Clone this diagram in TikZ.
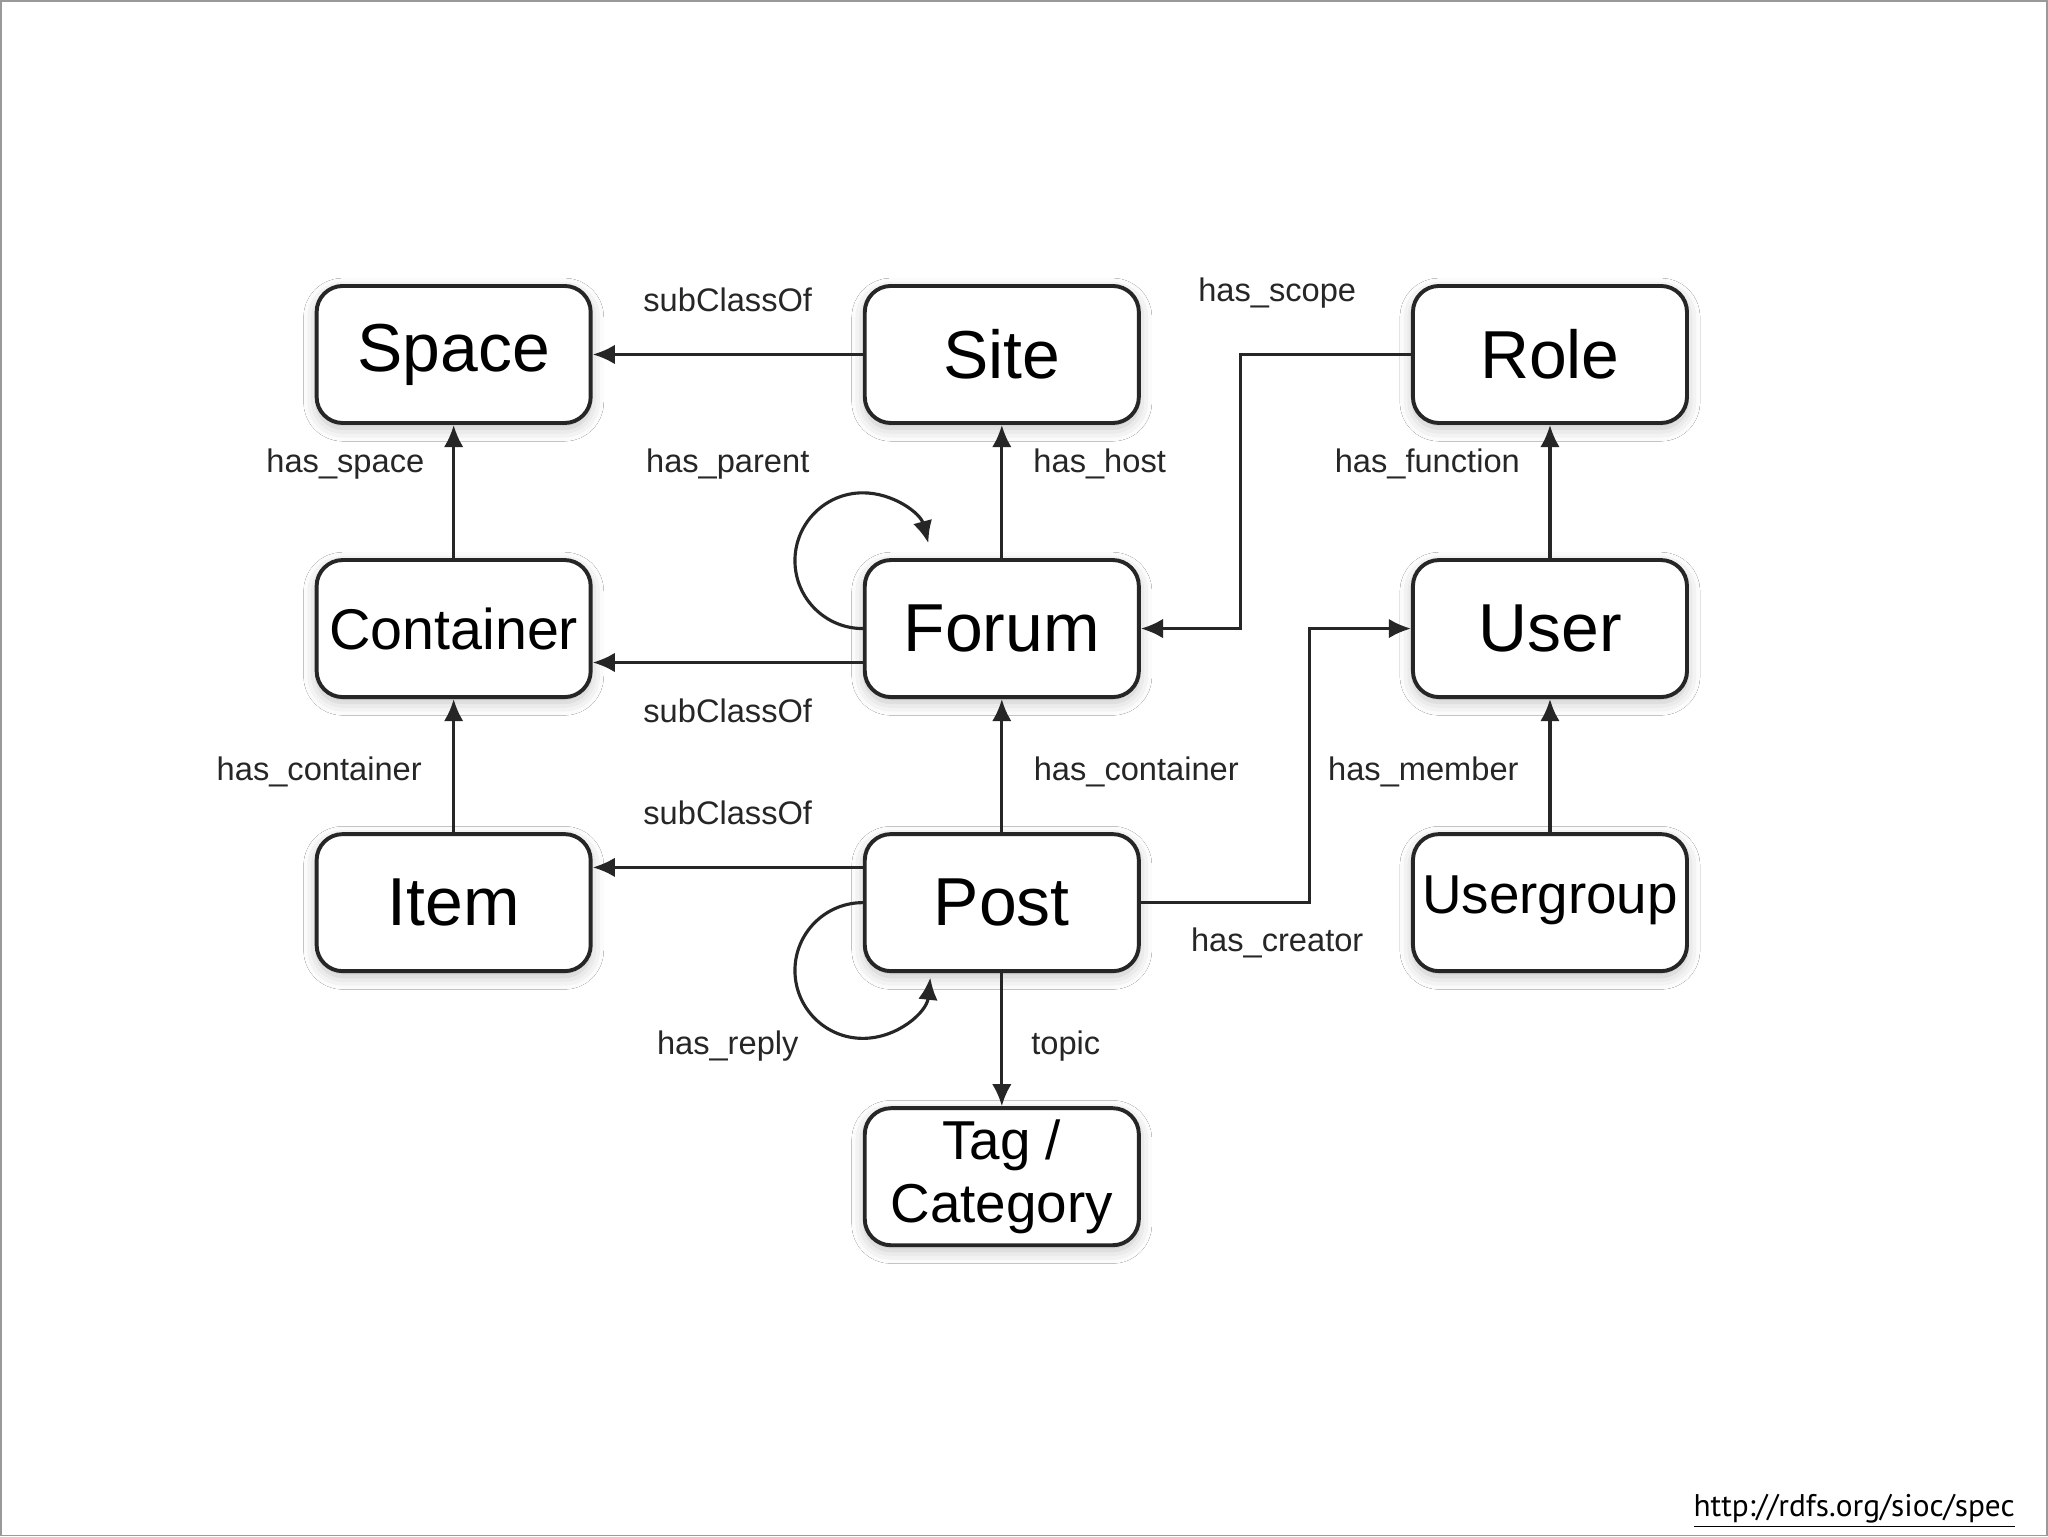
\documentclass[tikz,border=0pt]{standalone}
\usepackage{fontspec}
\setmainfont{Liberation Sans}
\newfontfamily\urlfont{PT Sans}
\usetikzlibrary{arrows.meta,shadows.blur}
\begin{document}
\begin{tikzpicture}[x=0.5pt,y=-0.5pt,
  box/.style={draw=black!85,line width=1.5pt,rounded corners=10pt,fill=white,
    minimum width=105pt,minimum height=52.5pt,inner sep=0pt,align=center,
    font=\fontsize{26}{26}\selectfont,
    blur shadow={shadow xshift=0pt,shadow yshift=-2pt,shadow blur radius=5pt,shadow opacity=25}},
  arr/.style={line width=1.2pt,draw=black!85,-{Latex[length=8.5pt,width=7.5pt]}},
  lbl/.style={font=\fontsize{12.5}{12.5}\selectfont,text=black!85}]
\draw[black!40,line width=0.6pt,fill=white] (0,0) rectangle (1568,1176);
\node[box] (space) at (347,271) {Space};
\node[box] (site) at (767,271) {Site};
\node[box] (role) at (1187,271) {Role};
\node[box,font=\fontsize{22}{22}\selectfont] (container) at (347,481) {Container};
\node[box] (forum) at (767,481) {Forum};
\node[box] (user) at (1187,481) {User};
\node[box] (item) at (347,691) {Item};
\node[box] (post) at (767,691) {Post};
\node[box,font=\fontsize{21}{21}\selectfont] (ugroup) at (1187,691) {Usergroup\rule[-6pt]{0pt}{1pt}};
\node[box,font=\fontsize{21}{24}\selectfont] (tag) at (767,901) {Tag /\\Category};

\draw[arr] (site) -- (space);
\draw[arr] (container) -- (space);
\draw[arr] (forum) -- (site);
\draw[arr] (forum.west) arc[start angle=270,end angle=15,radius=26pt];
\draw[arr] (role.west) -| (950,481) -- (forum.east);
\draw[arr] (user) -- (role);
\draw[arr] (forum.west |- 0,507) -- (container.east |- 0,507);
\draw[arr] (item) -- (container);
\draw[arr] (post) -- (forum);
\draw[arr] (post.west |- 0,664) -- (item.east |- 0,664);
\draw[arr] (post.east) -| (1003,481) -- (user.west);
\draw[arr] (ugroup) -- (user);
\draw[arr] (post.west |- 0,691) arc[start angle=90,end angle=354,radius=26pt];
\draw[arr] (post) -- (tag);

\node[lbl] (l1) at (557,229) {subClassOf};
\node[lbl] (l2) at (264,355) {has\_space};
\node[lbl] (l3) at (557,355) {has\_parent};
\node[lbl] (l4) at (842,355) {has\_host};
\node[lbl] (l5) at (978,224) {has\_scope};
\node[lbl] (l6) at (1093,355) {has\_function};
\node[lbl] (l7) at (557,544) {subClassOf};
\node[lbl] (l8) at (244,591) {has\_container};
\node[lbl] (l9) at (870,591) {has\_container};
\node[lbl] (l10) at (1090,591) {has\_member};
\node[lbl] (l11) at (557,622) {subClassOf};
\node[lbl] (l12) at (978,722) {has\_creator};
\node[lbl] (l13) at (557,801) {has\_reply};
\node[lbl] (l14) at (816,801) {topic};
\node[font=\urlfont\fontsize{12}{12}\selectfont] (url) at (1420,1157) {\underline{http://rdfs.org/sioc/spec}};
\end{tikzpicture}
\end{document}
